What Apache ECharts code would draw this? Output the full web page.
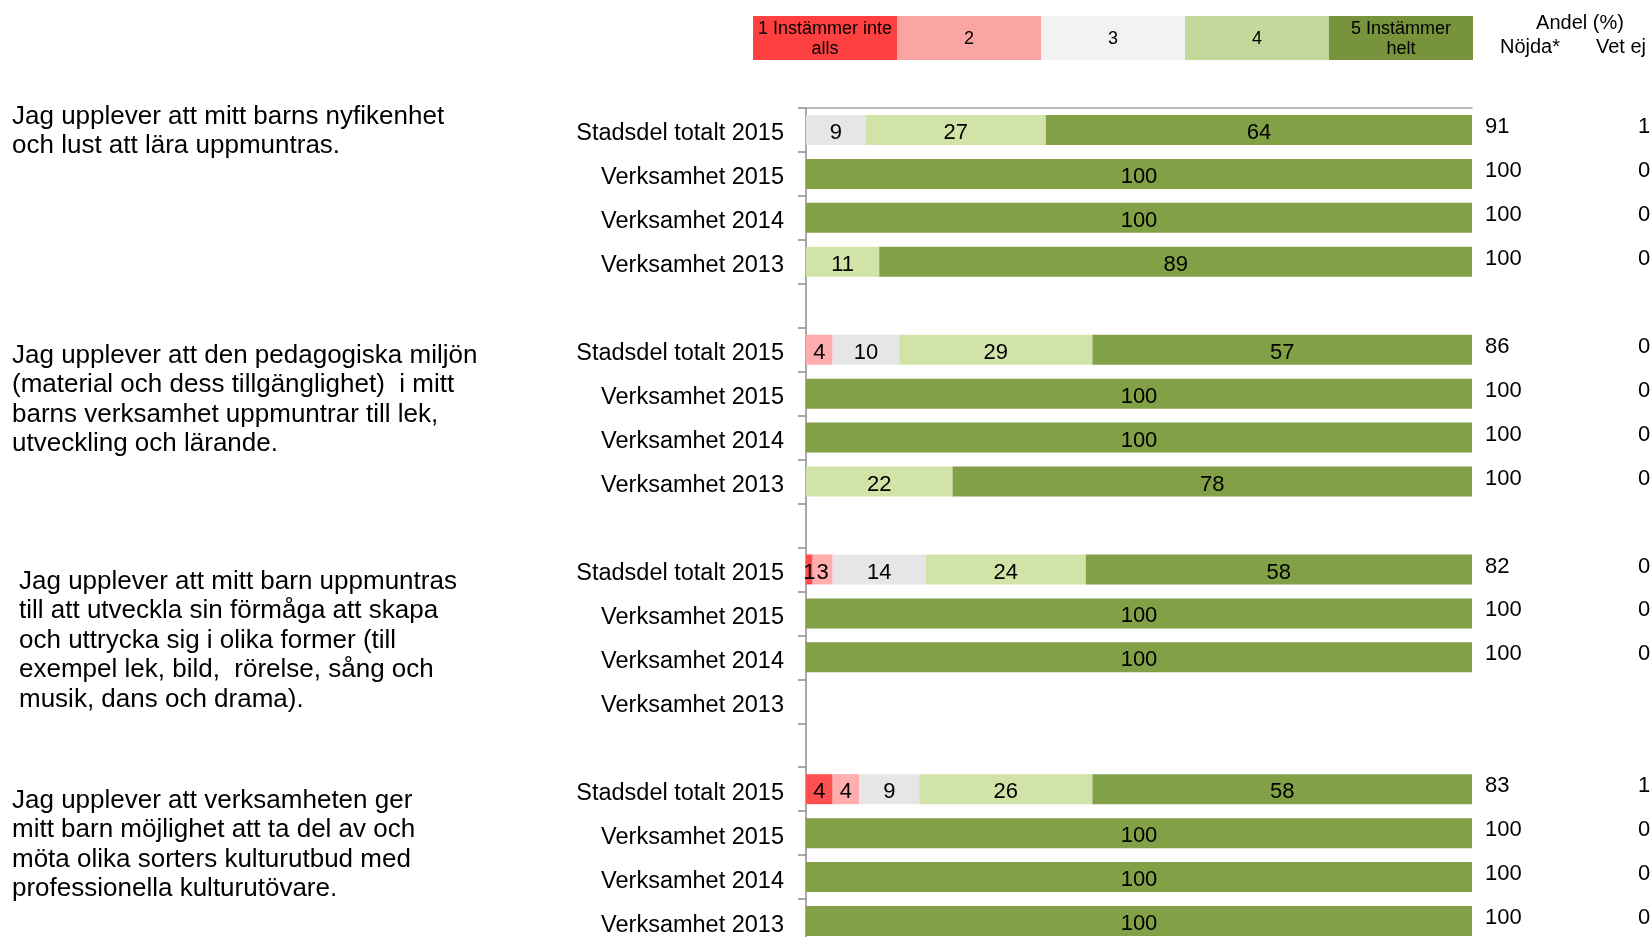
<!DOCTYPE html>
<html>
<head>
<meta charset="utf-8">
<title>Enkät</title>
<script src="https://cdn.jsdelivr.net/npm/echarts@6.0.0/dist/echarts.min.js"></script>
<style>
	body { margin: 0; background: #fff; }
	#main { width: 1652px; height: 937px; }
</style>
</head>
<body>
<div id="main"></div>
<script>
// rader uppifrån och ned, tom rad mellan frågorna
var categories = [
	'Stadsdel totalt 2015', 'Verksamhet 2015', 'Verksamhet 2014', 'Verksamhet 2013', '',
	'Stadsdel totalt 2015', 'Verksamhet 2015', 'Verksamhet 2014', 'Verksamhet 2013', '',
	'Stadsdel totalt 2015', 'Verksamhet 2015', 'Verksamhet 2014', 'Verksamhet 2013', '',
	'Stadsdel totalt 2015', 'Verksamhet 2015', 'Verksamhet 2014', 'Verksamhet 2013'
];

var legendNames = ['1 Instämmer inte\nalls', '2', '3', '4', '5 Instämmer\nhelt'];

// andel (%) per svarsalternativ
var s1 = [0, 0, 0, 0, null, 0, 0, 0, 0, null, 1, 0, 0, null, null, 4, 0, 0, 0];
var s2 = [0, 0, 0, 0, null, 4, 0, 0, 0, null, 3, 0, 0, null, null, 4, 0, 0, 0];
var s3 = [9, 0, 0, 0, null, 10, 0, 0, 0, null, 14, 0, 0, null, null, 9, 0, 0, 0];
var s4 = [27, 0, 0, 11, null, 29, 0, 0, 22, null, 24, 0, 0, null, null, 26, 0, 0, 0];
var s5 = [64, 100, 100, 89, null, 57, 100, 100, 78, null, 58, 100, 100, null, null, 58, 100, 100, 100];

// högra kolumnerna
var nojda = [91, 100, 100, 100, null, 86, 100, 100, 100, null, 82, 100, 100, null, null, 83, 100, 100, 100];
var vetEj = [1, 0, 0, 0, null, 0, 0, 0, 0, null, 0, 0, 0, null, null, 1, 0, 0, 0];

var questions = [
	'Jag upplever att mitt barns nyfikenhet\noch lust att lära uppmuntras.',
	'Jag upplever att den pedagogiska miljön\n(material och dess tillgänglighet)  i mitt\nbarns verksamhet uppmuntrar till lek,\nutveckling och lärande.',
	'Jag upplever att mitt barn uppmuntras\ntill att utveckla sin förmåga att skapa\noch uttrycka sig i olika former (till\nexempel lek, bild,  rörelse, sång och\nmusik, dans och drama).',
	'Jag upplever att verksamheten ger\nmitt barn möjlighet att ta del av och\nmöta olika sorters kulturutbud med\nprofessionella kulturutövare.'
];

// utseende
var font = '"Liberation Sans", Arial, sans-serif';
var barColors = ['#ff4f4f', '#ffadad', '#e6e6e6', '#d2e3a8', '#82a046'];
var legendColors = ['#ff4040', '#faa4a4', '#f2f2f2', '#c5d89c', '#77933c'];
var questionPos = [[12, 102], [12, 341], [19, 567], [12, 786]];

var chart = echarts.init(document.getElementById('main'));

var graphics = [];
// förklaring överst
for (var i = 0; i < legendNames.length; i++) {
	graphics.push({
		type: 'rect',
		shape: { x: 753 + i * 144, y: 16, width: 144, height: 44 },
		style: { fill: legendColors[i] },
		silent: true
	});
	graphics.push({
		type: 'text',
		x: 753 + i * 144 + 72,
		y: 39,
		style: {
			text: legendNames[i],
			font: '18px ' + font,
			fill: '#000',
			align: 'center',
			verticalAlign: 'middle',
			lineHeight: 20
		},
		silent: true
	});
}
graphics.push({ type: 'text', x: 1580, y: 23, style: { text: 'Andel (%)', font: '20px ' + font, fill: '#000', align: 'center', verticalAlign: 'middle' } });
graphics.push({ type: 'text', x: 1530, y: 47, style: { text: 'Nöjda*', font: '20px ' + font, fill: '#000', align: 'center', verticalAlign: 'middle' } });
graphics.push({ type: 'text', x: 1621, y: 47, style: { text: 'Vet ej', font: '20px ' + font, fill: '#000', align: 'center', verticalAlign: 'middle' } });

// frågetexter till vänster
questions.forEach(function(q, k) {
	graphics.push({
		type: 'text',
		x: questionPos[k][0],
		y: questionPos[k][1],
		style: {
			text: q,
			font: '26px ' + font,
			fill: '#000',
			lineHeight: 29.5,
			verticalAlign: 'top'
		},
		silent: true
	});
});

var seriesData = [s1, s2, s3, s4, s5];
var series = seriesData.map(function(d, k) {
	return {
		name: legendNames[k],
		type: 'bar',
		stack: 'total',
		barWidth: 30,
		data: d,
		itemStyle: { color: barColors[k] },
		label: {
			show: true,
			position: 'inside',
			offset: [0, 3],
			color: '#000',
			fontSize: 22,
			fontFamily: font,
			formatter: function(p) {
				return p.value ? p.value : '';
			}
		},
		emphasis: { disabled: true }
	};
});

var option = {
	animation: false,
	backgroundColor: '#fff',
	graphic: graphics,
	grid: {
		left: 806,
		top: 108,
		width: 666,
		height: 835,
		outerBoundsMode: 'none'
	},
	xAxis: {
		type: 'value',
		position: 'top',
		min: 0,
		max: 100,
		axisLine: { show: true, lineStyle: { color: '#a0a0a0', width: 1.5 } },
		axisTick: { show: false },
		axisLabel: { show: false },
		splitLine: { show: false }
	},
	yAxis: [{
		type: 'category',
		data: categories,
		inverse: true,
		axisLine: { show: true, lineStyle: { color: '#8c8c8c', width: 1.5 } },
		axisTick: { show: true, length: 8, lineStyle: { color: '#8c8c8c', width: 1.5 } },
		axisLabel: {
			interval: 0,
			margin: 22,
			padding: [8, 0, 0, 0],
			formatter: function(value) {
				return value ? '{c|' + value + '}' : '';
			},
			rich: {
				c: { fontSize: 23.5, fontFamily: font, color: '#000' }
			}
		}
	}, {
		type: 'category',
		data: categories,
		inverse: true,
		position: 'right',
		axisLine: { show: false },
		axisTick: { show: false },
		axisLabel: {
			interval: 0,
			margin: 13,
			align: 'left',
			padding: [0, 0, 6, 0],
			formatter: function(value, index) {
				if (nojda[index] == null) return '';
				return '{n|' + nojda[index] + '}{v|' + vetEj[index] + '}';
			},
			rich: {
				n: { width: 153, fontSize: 22, fontFamily: font, color: '#000' },
				v: { fontSize: 22, fontFamily: font, color: '#000' }
			}
		}
	}],
	series: series
};

chart.setOption(option);
</script>
</body>
</html>
